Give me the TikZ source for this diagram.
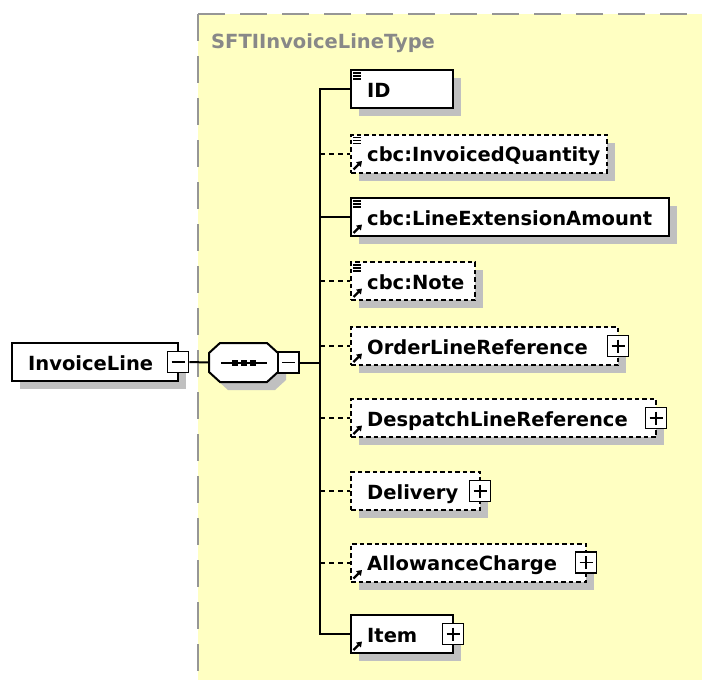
\documentclass[tikz,border=0pt]{standalone}
\usepackage{fontspec}
\setmainfont{DejaVu Sans}
\usetikzlibrary{arrows.meta,shadows}
\definecolor{bgyellow}{RGB}{255,255,194}
\definecolor{shgray}{RGB}{192,192,192}
\definecolor{bordergray}{RGB}{150,150,150}
\definecolor{labelgray}{RGB}{136,136,136}
\newcommand\eltnode[6]{%
  \node[#2, minimum width=#4pt] (#1) at (#3,#5) {};
  \node[lbl] (#1t) at (367,#5+8) {#6};}
\newcommand\simpleicon[1]{%
  \foreach \d in {4,7,10} \draw[line width=1.3pt] ([xshift=3pt,yshift=-\d pt]#1.north west) -- ++(8pt,0pt);}
\newcommand\refarrow[1]{%
  \draw[line width=2.2pt, -{Triangle[length=5pt,width=6.5pt]}] ([xshift=3.5pt,yshift=4pt]#1.south west) -- ++(8.5pt,8.5pt);}
\begin{document}
\begin{tikzpicture}[x=1pt,y=-1pt,
  font=\fontsize{19.5}{22}\selectfont\bfseries,
  box/.style={rectangle, draw=black, fill=white, line width=2pt, minimum height=38pt, inner sep=0pt,
    drop shadow={shadow xshift=8pt, shadow yshift=-8pt, fill=shgray, opacity=1}},
  optbox/.style={box, dash pattern=on 4.5pt off 3pt},
  lbl/.style={anchor=base west, inner sep=0pt},
  conn/.style={line width=2pt},
  optconn/.style={line width=2pt, dash pattern=on 5pt off 4pt},
  pmbox/.style={rectangle, draw=black, fill=white, line width=1.8pt, minimum size=21pt, inner sep=0pt},
  minusbox/.style={pmbox, path picture={\draw[line width=1.5pt] ([xshift=4pt]path picture bounding box.west) -- ([xshift=-4pt]path picture bounding box.east);}},
  plusbox/.style={pmbox, path picture={\draw[line width=1.5pt] ([xshift=4pt]path picture bounding box.west) -- ([xshift=-4pt]path picture bounding box.east) ([yshift=-4pt]path picture bounding box.north) -- ([yshift=4pt]path picture bounding box.south);}}
]
\useasboundingbox (0,0) rectangle (702,680);
\fill[white] (0,0) rectangle (702,680);
% type area
\fill[bgyellow] (198,14) rectangle (702,680);
\draw[bordergray, line width=2.4pt, dash pattern=on 27pt off 15pt] (198,14) -- (198,680);
\draw[bordergray, line width=2.4pt, dash pattern=on 27pt off 15pt] (198,14) -- (702,14);
\node[lbl, text=labelgray] (typelbl) at (211,48) {SFTIInvoiceLineType};

% InvoiceLine
\node[box, minimum width=166pt] (il) at (95,362) {};
\node[lbl] (ilt) at (28,370) {InvoiceLine};
\node[minusbox] (ilm) at ([xshift=-1pt]il.east) {};

% sequence compositor
\node[rectangle, minimum width=69pt, minimum height=39pt, inner sep=0pt] (seq) at (243.5,362.5) {};
\fill[shgray, shift={(8,8)}] (220,343) -- (267,343) -- (278,353) -- (278,372) -- (267,382) -- (220,382) -- (209,372) -- (209,353) -- cycle;
\draw[fill=white, line width=2pt] (220,343) -- (267,343) -- (278,353) -- (278,372) -- (267,382) -- (220,382) -- (209,372) -- (209,353) -- cycle;
\draw[line width=2pt] (221,362.5) -- (267,362.5);
\foreach \c in {234.5,243.5,252.5} \fill (\c-3,359.5) rectangle (\c+3,365.5);
\node[minusbox] (seqm) at (288.5,362.5) {};

\draw[conn] (ilm.east) -- (seq.west);
\coordinate (bus) at (320,362.5);
\draw[conn] (seqm.east) -- (bus);

% children
\eltnode{id}{box}{402}{102}{89}{ID}
\eltnode{iq}{optbox}{479}{256}{153.5}{cbc:InvoicedQuantity}
\eltnode{lea}{box}{510}{318}{217}{cbc:LineExtensionAmount}
\eltnode{note}{optbox}{413}{124}{281}{cbc:Note}
\eltnode{olr}{optbox}{484.5}{267}{346}{OrderLineReference}
\eltnode{dlr}{optbox}{503.5}{305}{418}{DespatchLineReference}
\eltnode{del}{optbox}{415.5}{129}{491}{Delivery}
\eltnode{ac}{optbox}{468.5}{235}{562.5}{AllowanceCharge}
\eltnode{item}{box}{402}{102}{634}{Item}

\node[plusbox] (olrp) at ([xshift=-1pt]olr.east) {};
\node[plusbox] (dlrp) at ([xshift=-1pt]dlr.east) {};
\node[plusbox] (delp) at ([xshift=-1pt]del.east) {};
\node[plusbox] (acp) at ([xshift=-1pt]ac.east) {};
\node[plusbox] (itemp) at ([xshift=-1pt]item.east) {};

\simpleicon{id}
\simpleicon{iq}\refarrow{iq}
\simpleicon{lea}\refarrow{lea}
\simpleicon{note}\refarrow{note}
\refarrow{olr}
\refarrow{dlr}
\refarrow{ac}
\refarrow{item}

% connectors
\draw[conn] (id.west) -| (bus);
\draw[conn] (item.west) -| (bus);
\draw[conn] (lea.west) -- (lea.west -| bus);
\draw[optconn] (bus |- iq.west) -- (iq.west);
\draw[optconn] (bus |- note.west) -- (note.west);
\draw[optconn] (bus |- olr.west) -- (olr.west);
\draw[optconn] (bus |- dlr.west) -- (dlr.west);
\draw[optconn] (bus |- del.west) -- (del.west);
\draw[optconn] (bus |- ac.west) -- (ac.west);
\end{tikzpicture}
\end{document}
